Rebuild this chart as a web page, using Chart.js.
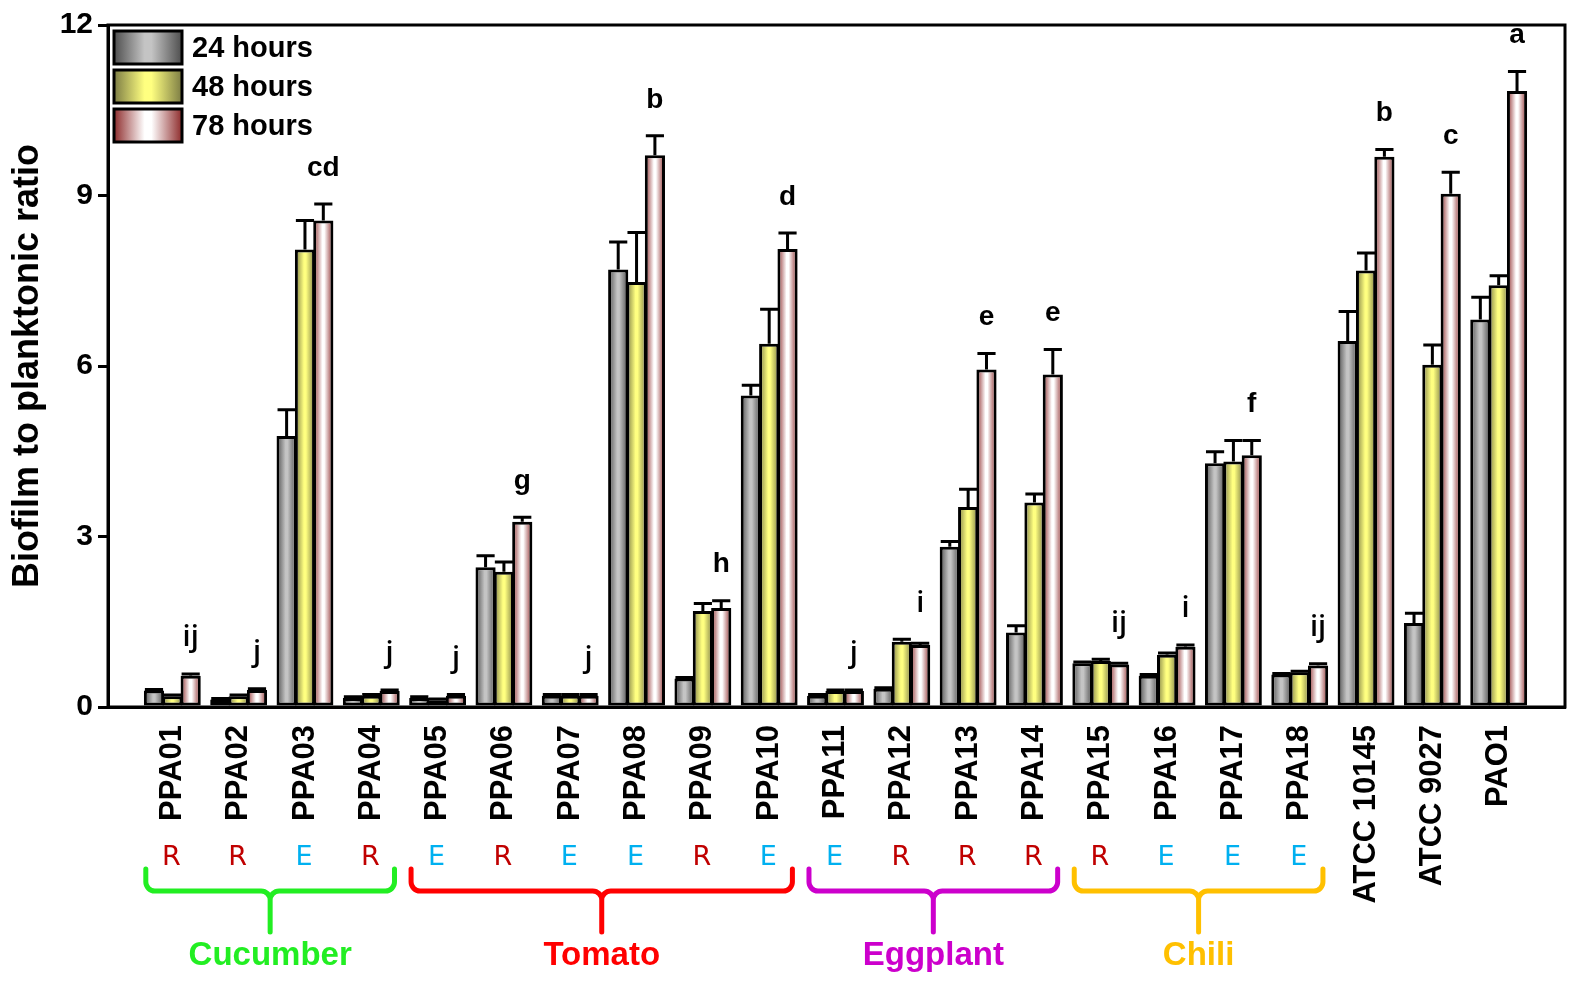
<!DOCTYPE html>
<html>
<head>
<meta charset="utf-8">
<script src="https://cdn.jsdelivr.net/npm/chart.js@4"></script>
<style>
  html, body { margin: 0; padding: 0; background: #fff; }
  #wrap { width: 1570px; height: 981px; }
</style>
</head>
<body>
<div id="wrap"><canvas id="biofilmChart" width="1570" height="981"></canvas></div>
<script>
// strains on the x axis
const strains = ['PPA01', 'PPA02', 'PPA03', 'PPA04', 'PPA05', 'PPA06', 'PPA07', 'PPA08', 'PPA09', 'PPA10',
                 'PPA11', 'PPA12', 'PPA13', 'PPA14', 'PPA15', 'PPA16', 'PPA17', 'PPA18',
                 'ATCC 10145', 'ATCC 9027', 'PAO1'];
const seriesNames = ['24 hours', '48 hours', '78 hours'];

// biofilm / planktonic ratio (mean) and error (SD) per time point
const hours24 = [0.29, 0.13, 4.77, 0.16, 0.16, 2.46, 0.20, 7.70, 0.50, 5.48, 0.20, 0.32, 2.82, 1.31, 0.77, 0.55, 4.29, 0.57, 6.44, 1.48, 6.82];
const err24   = [0.02, 0.02, 0.46, 0.02, 0.02, 0.20, 0.02, 0.48, 0.02, 0.18, 0.02, 0.02, 0.09, 0.12, 0.02, 0.02, 0.20, 0.02, 0.52, 0.17, 0.39];
const hours48 = [0.19, 0.19, 8.05, 0.20, 0.12, 2.38, 0.20, 7.48, 1.69, 6.39, 0.28, 1.15, 3.52, 3.60, 0.81, 0.92, 4.32, 0.61, 7.68, 6.02, 7.42];
const err48   = [0.02, 0.02, 0.51, 0.02, 0.02, 0.17, 0.02, 0.87, 0.13, 0.61, 0.02, 0.04, 0.31, 0.15, 0.03, 0.03, 0.37, 0.02, 0.31, 0.35, 0.17];
const hours78 = [0.55, 0.30, 8.56, 0.28, 0.20, 3.26, 0.20, 9.71, 1.74, 8.06, 0.28, 1.09, 5.94, 5.85, 0.75, 1.06, 4.43, 0.73, 9.68, 9.03, 10.84];
const err78   = [0.03, 0.02, 0.29, 0.02, 0.02, 0.08, 0.02, 0.34, 0.13, 0.28, 0.02, 0.03, 0.28, 0.44, 0.02, 0.03, 0.26, 0.03, 0.13, 0.38, 0.34];

// significance letters and isolate origin (R / E) per strain
const sigLetters = ['ij', 'j', 'cd', 'j', 'j', 'g', 'j', 'b', 'h', 'd', 'j', 'i', 'e', 'e', 'ij', 'i', 'f', 'ij', 'b', 'c', 'a'];
const isolateType = ['R', 'R', 'E', 'R', 'E', 'R', 'E', 'E', 'R', 'E', 'E', 'R', 'R', 'R', 'R', 'E', 'E', 'E', '', '', ''];

// host plant groups (first / last strain index)
const hostNames = ['Cucumber', 'Tomato', 'Eggplant', 'Chili'];
const hostFirst = [0, 4, 10, 14];
const hostLast  = [3, 9, 13, 17];

const yTicks = [0, 3, 6, 9, 12];

// styles
const FONT = "'Liberation Sans', Arial, sans-serif";
const hostColors = ['#22ee22', '#ff0000', '#cc00cc', '#ffc000'];
const typeColors = { R: '#c00000', E: '#00b0f0' };
const barStops = [
  ['#4e4e4e', '#c4c4c4', '#4e4e4e'],   // grey
  ['#7c7c44', '#ffff80', '#7c7c44'],   // yellow
  ['#8e2c2c', '#ffffff', '#8e2c2c']    // white / red edge
];
const CAT_PCT = 0.83;
const BAR_PCT = 1.1;

function makeGradient(ctx, x0, x1, stops) {
  const g = ctx.createLinearGradient(x0, 0, x1, 0);
  g.addColorStop(0, stops[0]);
  g.addColorStop(0.45, stops[1]);
  g.addColorStop(0.55, stops[1]);
  g.addColorStop(1, stops[2]);
  return g;
}

function barFill(c) {
  const chart = c.chart;
  const xs = chart.scales.x;
  if (c.type !== 'data' || !xs || !chart.chartArea) return barStops[c.datasetIndex][1];
  const step = xs.getPixelForValue(1) - xs.getPixelForValue(0);
  const slot = step * CAT_PCT / 3;
  const centre = xs.getPixelForValue(c.dataIndex) - 1.5 * slot + (c.datasetIndex + 0.5) * slot;
  const w = slot * BAR_PCT;
  return makeGradient(chart.ctx, centre - w / 2, centre + w / 2, barStops[c.datasetIndex]);
}

const errors = [err24, err48, err78];

const decorations = {
  id: 'decorations',
  afterDatasetsDraw(chart) {
    const ctx = chart.ctx;
    const ys = chart.scales.y;
    ctx.save();
    ctx.strokeStyle = '#000';
    ctx.lineWidth = 3;
    chart.data.datasets.forEach((ds, d) => {
      chart.getDatasetMeta(d).data.forEach((bar, i) => {
        const top = ys.getPixelForValue(ds.data[i].y + errors[d][i]);
        const cap = bar.width * 0.45;
        ctx.beginPath();
        ctx.moveTo(bar.x, bar.y);
        ctx.lineTo(bar.x, top);
        ctx.moveTo(bar.x - cap, top);
        ctx.lineTo(bar.x + cap, top);
        ctx.stroke();
      });
    });
    // significance letters above the 78 h bar
    const last = chart.getDatasetMeta(2).data;
    ctx.fillStyle = '#000';
    ctx.textAlign = 'center';
    ctx.textBaseline = 'middle';
    sigLetters.forEach((s, i) => {
      let top = Infinity;
      chart.data.datasets.forEach((ds, d) => {
        top = Math.min(top, ys.getPixelForValue(ds.data[i].y + errors[d][i]));
      });
      ctx.font = /[ij]/.test(s) ? "600 29px 'Open Sans', sans-serif" : 'bold 28px ' + FONT;
      ctx.fillText(s, last[i].x, top - 36);
    });
    ctx.restore();
  },
  afterDraw(chart) {
    const ctx = chart.ctx;
    const area = chart.chartArea;
    const xs = chart.scales.x;
    ctx.save();
    // frame
    ctx.strokeStyle = '#000';
    ctx.lineWidth = 3;
    ctx.strokeRect(area.left, area.top, area.right - area.left, area.bottom - area.top);

    // legend
    const lx = area.left + 6, ly = area.top + 6, bw = 68, bh = 33, pitch = 39;
    chart.data.datasets.forEach((ds, d) => {
      const y = ly + d * pitch;
      ctx.fillStyle = makeGradient(ctx, lx, lx + bw, barStops[d]);
      ctx.fillRect(lx, y, bw, bh);
      ctx.strokeRect(lx, y, bw, bh);
      ctx.fillStyle = '#000';
      ctx.font = 'bold 29px ' + FONT;
      ctx.textAlign = 'left';
      ctx.textBaseline = 'middle';
      ctx.fillText(ds.label, lx + 78, y + bh / 2 + 1);
    });

    // R / E markers
    ctx.font = "27px 'DejaVu Sans', sans-serif";
    ctx.textAlign = 'center';
    ctx.textBaseline = 'middle';
    isolateType.forEach((t, i) => {
      if (!t) return;
      ctx.fillStyle = typeColors[t];
      ctx.fillText(t, xs.getPixelForValue(i) - 1, 858);
    });

    // host brackets
    const yTop = 869, yMid = 891, yStem = 932, r = 9;
    ctx.lineWidth = 5;
    ctx.lineCap = 'round';
    hostNames.forEach((name, g) => {
      const x0 = xs.getPixelForValue(hostFirst[g] - 0.4);
      const x1 = xs.getPixelForValue(hostLast[g] + 0.35);
      const xm = (x0 + x1) / 2;
      ctx.strokeStyle = hostColors[g];
      ctx.beginPath();
      ctx.moveTo(x0, yTop);
      ctx.arcTo(x0, yMid, xm, yMid, r);
      ctx.arcTo(xm, yMid, xm, yStem, r);
      ctx.lineTo(xm, yStem);
      ctx.moveTo(x1, yTop);
      ctx.arcTo(x1, yMid, xm, yMid, r);
      ctx.arcTo(xm, yMid, xm, yStem, r);
      ctx.stroke();
      ctx.fillStyle = hostColors[g];
      ctx.font = 'bold 33px ' + FONT;
      ctx.fillText(name, xm, 956);
    });
    ctx.restore();
  }
};

const datasets = [hours24, hours48, hours78].map((vals, d) => ({
  label: seriesNames[d],
  data: vals.map((v, i) => ({ x: i, y: v })),
  backgroundColor: barFill,
  borderColor: '#000',
  borderWidth: 3,
  borderSkipped: false,
  categoryPercentage: CAT_PCT,
  barPercentage: BAR_PCT
}));

const ctx1 = document.getElementById('biofilmChart').getContext('2d');
const biofilmChart = new Chart(ctx1, {
  type: 'bar',
  data: { datasets: datasets },
  options: {
    responsive: false,
    animation: false,
    events: [],
    layout: { padding: { top: 25, right: 5, left: 0, bottom: 0 } },
    plugins: { legend: { display: false }, tooltip: { enabled: false } },
    scales: {
      x: {
        type: 'linear',
        offset: false,
        min: -0.97,
        max: 21,
        afterBuildTicks: s => { s.ticks = strains.map((_, i) => ({ value: i })); },
        afterFit: s => { s.height = 981 - 707; },
        border: { display: true, color: '#000', width: 3 },
        grid: { display: false, drawTicks: false, offset: false },
        ticks: {
          autoSkip: false,
          minRotation: 90,
          maxRotation: 90,
          padding: 18,
          color: '#000',
          font: { family: FONT, size: 31, weight: 'bold' },
          callback: v => strains[v] ?? ''
        }
      },
      y: {
        min: 0,
        max: 12,
        afterBuildTicks: s => { s.ticks = yTicks.map(v => ({ value: v })); },
        afterFit: s => { s.width = 108; },
        border: { display: true, color: '#000', width: 3 },
        grid: { drawOnChartArea: false, drawTicks: true, tickLength: 10, color: '#000', lineWidth: 3 },
        ticks: { color: '#000', padding: 5, font: { family: FONT, size: 30, weight: 'bold' } },
        title: {
          display: true,
          text: 'Biofilm to planktonic ratio',
          color: '#000',
          padding: { top: 6, bottom: 0 },
          font: { family: FONT, size: 36, weight: 'bold' }
        }
      }
    }
  },
  plugins: [decorations]
});
</script>
</body>
</html>
